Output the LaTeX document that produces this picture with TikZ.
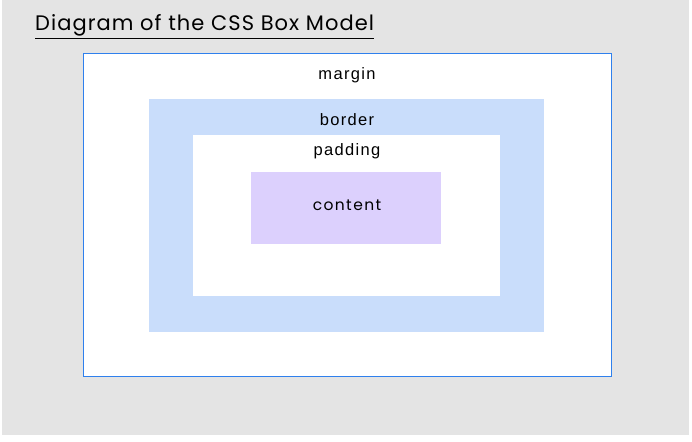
\documentclass[tikz,border=0pt]{standalone}
\usepackage{fontspec}
\usepackage{tikz}
\usetikzlibrary{positioning}
\newfontfamily\titlefont[LetterSpace=5]{Poppins}
\newfontfamily\labelfont[LetterSpace=8]{Liberation Sans}
\newfontfamily\contentfont[LetterSpace=9]{Poppins}
\definecolor{pagegray}{HTML}{E4E4E4}
\definecolor{marginblue}{HTML}{2F80ED}
\definecolor{borderblue}{HTML}{C9DDFB}
\definecolor{contentlilac}{HTML}{DCD0FD}

\tikzset{
  layer/.style={rectangle, inner sep=0pt, outer sep=0pt},
  boxlabel/.style={anchor=base, inner sep=0pt, font=\labelfont\fontsize{16.5}{19}\selectfont}
}

\begin{document}
\begin{tikzpicture}[x=1pt, y=-1pt]
		\useasboundingbox (0,0) rectangle (692,441);
		\fill[pagegray] (2,0) rectangle (689,435);
		
		\node[anchor=base west, inner sep=0pt, font=\titlefont\fontsize{21}{25}\selectfont] (title) at (35,31) {\underline{Diagram of the CSS Box Model}};
		
		\node[layer, fill=white, draw=marginblue, line width=1pt, minimum width=528pt, minimum height=322pt] (margin) at (347,215) {};
		\node[layer, fill=borderblue, minimum width=395pt, minimum height=233pt] (border) at (346.5,215.5) {};
		\node[layer, fill=white, minimum width=307pt, minimum height=161pt] (padding) at (346.5,215.5) {};
		\node[layer, fill=contentlilac, minimum width=190pt, minimum height=72pt] (content) at (346,208) {};
		
		\node[boxlabel] (marginlabel) at (347,80) {margin};
		\node[boxlabel] (borderlabel) at (347,125) {border};
		\node[boxlabel] (paddinglabel) at (347,155) {padding};
		\node[anchor=base, inner sep=0pt, font=\contentfont\fontsize{15.5}{18}\selectfont] (contentlabel) at (347,210) {content};
	\end{tikzpicture}
\end{document}
